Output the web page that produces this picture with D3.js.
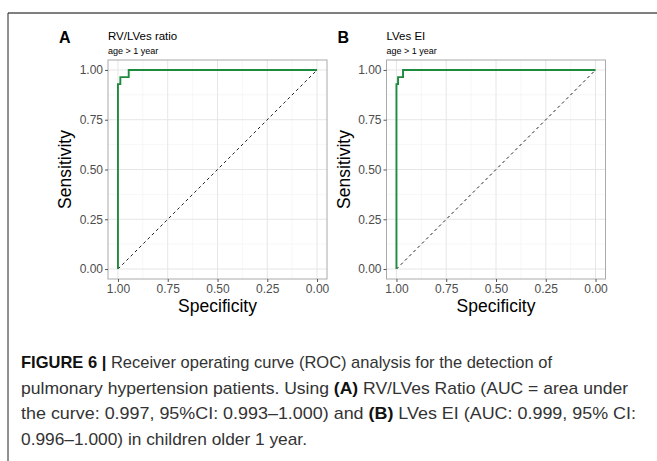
<!DOCTYPE html>
<html>
<head>
<meta charset="utf-8">
<script src="https://cdn.jsdelivr.net/npm/d3@7"></script>
<style>
  body{margin:0;background:#fff;}
  svg{display:block;font-family:"Liberation Sans",Arial,sans-serif;}
</style>
</head>
<body>
<svg id="chart" width="657" height="461"></svg>
<script>
// ROC curves: specificity / sensitivity pairs (step points)
const specA = [1.00, 1.00, 0.988, 0.988, 0.946, 0.946, 0.00]
const sensA = [0.00, 0.929, 0.929, 0.964, 0.964, 1.00, 1.00]
const specB = [1.00, 1.00, 0.992, 0.992, 0.967, 0.967, 0.00]
const sensB = [0.00, 0.929, 0.929, 0.964, 0.964, 1.00, 1.00]
const panelLetters = ['A', 'B']
const panelTitles = ['RV/LVes ratio', 'LVes EI']
const subtitle = 'age > 1 year'
const tickValues = [1.00, 0.75, 0.50, 0.25, 0.00]
const minorValues = [0.875, 0.625, 0.375, 0.125]

const svg = d3.select('#chart')

// outer frame lines
svg.append('line').attr('x1',8).attr('x2',657).attr('y1',13).attr('y2',13)
  .attr('stroke','#555').attr('stroke-width',1.5)
svg.append('line').attr('x1',8).attr('x2',8).attr('y1',13).attr('y2',461)
  .attr('stroke','#222').attr('stroke-width',1)

const panels = [
  {left:108, spec:specA, sens:sensA},
  {left:386.5, spec:specB, sens:sensB}
]
const pw = 219, panelTop = 60, ph = 219

panels.forEach((p,i)=>{
  const g = svg.append('g').attr('transform',`translate(${p.left},${panelTop})`)
  const x = d3.scaleLinear().domain([1.05,-0.05]).range([0,pw])
  const y = d3.scaleLinear().domain([-0.05,1.05]).range([ph,0])

  // grid
  g.selectAll('.minx').data(minorValues).enter().append('line')
    .attr('x1',d=>x(d)).attr('x2',d=>x(d)).attr('y1',0).attr('y2',ph)
    .attr('stroke','#f2f2f2').attr('stroke-width',0.6)
  g.selectAll('.miny').data(minorValues).enter().append('line')
    .attr('y1',d=>y(d)).attr('y2',d=>y(d)).attr('x1',0).attr('x2',pw)
    .attr('stroke','#f2f2f2').attr('stroke-width',0.6)
  g.selectAll('.majx').data(tickValues).enter().append('line')
    .attr('x1',d=>x(d)).attr('x2',d=>x(d)).attr('y1',0).attr('y2',ph)
    .attr('stroke','#e6e6e6').attr('stroke-width',1)
  g.selectAll('.majy').data(tickValues).enter().append('line')
    .attr('y1',d=>y(d)).attr('y2',d=>y(d)).attr('x1',0).attr('x2',pw)
    .attr('stroke','#e6e6e6').attr('stroke-width',1)

  // diagonal reference
  g.append('line')
    .attr('x1',x(1)).attr('y1',y(0)).attr('x2',x(0)).attr('y2',y(1))
    .attr('stroke','#222').attr('stroke-width',1).attr('stroke-dasharray','3,3')

  // ROC curve
  const line = d3.line().x(d=>x(d[0])).y(d=>y(d[1]))
  g.append('path').datum(d3.zip(p.spec,p.sens))
    .attr('d',line).attr('fill','none')
    .attr('stroke','#1e8a3e').attr('stroke-width',1.9)

  // border
  g.append('rect').attr('width',pw).attr('height',ph)
    .attr('fill','none').attr('stroke','#aaa').attr('stroke-width',1)

  // axes
  const xAxis = d3.axisBottom(x).tickValues(tickValues).tickFormat(d3.format('.2f')).tickSize(3).tickPadding(2)
  const xg = g.append('g').attr('transform',`translate(0,${ph})`).call(xAxis)
  const yAxis = d3.axisLeft(y).tickValues(tickValues).tickFormat(d3.format('.2f')).tickSize(3).tickPadding(2)
  const yg = g.append('g').call(yAxis)
  ;[xg,yg].forEach(a=>{
    a.select('.domain').remove()
    a.selectAll('.tick line').attr('stroke','#555')
    a.selectAll('text').attr('fill','#4d4d4d').style('font-size','12px')
  })

  // axis titles
  g.append('text').attr('x',pw/2).attr('y',ph+33).attr('text-anchor','middle')
    .style('font-size','17.5px').attr('fill','#000').text('Specificity')
  g.append('text').attr('transform',`translate(-37,${ph/2}) rotate(-90)`)
    .attr('text-anchor','middle').style('font-size','17.5px').attr('fill','#000').text('Sensitivity')

  // titles
  g.append('text').attr('x',0).attr('y',-20).style('font-size','11.5px').attr('fill','#000').text(panelTitles[i])
  g.append('text').attr('x',0).attr('y',-6).style('font-size','9px').attr('fill','#000').text(subtitle)
  g.append('text').attr('x',-49).attr('y',-17).style('font-size','16px').style('font-weight','bold')
    .attr('fill','#000').text(panelLetters[i])
})

// caption
const caption = svg.append('g').style('font-size','17px').attr('fill','#333')
const lines = [
  [['FIGURE 6 |',true],[' Receiver operating curve (ROC) analysis for the detection of',false]],
  [['pulmonary hypertension patients. Using ',false],['(A)',true],[' RV/LVes Ratio (AUC = area under',false]],
  [['the curve: 0.997, 95%CI: 0.993\u20131.000) and ',false],['(B)',true],[' LVes EI (AUC: 0.999, 95% CI:',false]],
  [['0.996\u20131.000) in children older 1 year.',false]]
]
const lineWidths = [531, 607, 615, 286]
lines.forEach((ln,k)=>{
  const t = caption.append('text').attr('x',21).attr('y',368+k*25.7)
    .attr('textLength',lineWidths[k]).attr('lengthAdjust','spacingAndGlyphs')
  ln.forEach(([s,b])=>{
    t.append('tspan').text(s).style('font-weight',b?'bold':'normal').attr('fill',b?'#111':'#333')
  })
})
</script>
</body>
</html>
